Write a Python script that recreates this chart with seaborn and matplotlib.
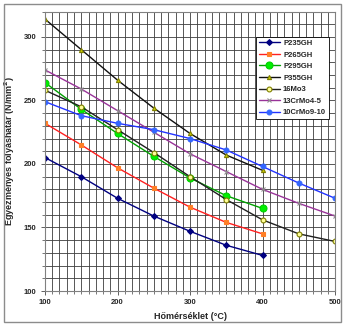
import matplotlib
matplotlib.use("Agg")
import matplotlib.pyplot as plt
from matplotlib.patches import Rectangle
from matplotlib.ticker import MultipleLocator
import seaborn as sns
import pandas as pd

sns.set_style("white")
plt.rcParams["font.family"] = ["Liberation Sans", "DejaVu Sans"]
plt.rcParams["font.weight"] = "bold"

# Temperatures (°C)
temps_short = [100, 150, 200, 250, 300, 350, 400]
temps_long = [100, 150, 200, 250, 300, 350, 400, 450, 500]

# Yield strength at elevated temperature (N/mm²)
p235gh = [205, 190, 173, 159, 147, 136, 128]
p265gh = [232, 215, 197, 181, 166, 154, 145]
p295gh = [264, 243, 224, 206, 189, 175, 165]
p355gh = [314, 290, 266, 244, 224, 207, 195]
mo16_3 = [258, 245, 227, 209, 190, 172, 156, 145, 139]
crmo13_45 = [274, 259, 242, 225, 208, 194, 180, 169, 159]
crmo10_910 = [249, 238, 232, 227, 220, 211, 198, 185, 173]

series = [
    ("P235GH", temps_short, p235gh,
     dict(color="#000080", marker="D", markersize=3, mfc="#000080", mec="#000080")),
    ("P265GH", temps_short, p265gh,
     dict(color="#FF2020", marker="s", markersize=3, mfc="#FF7F27", mec="#FF7F27")),
    ("P295GH", temps_short, p295gh,
     dict(color="#00A000", marker="o", markersize=5, mfc="#00F000", mec="#00D000")),
    ("P355GH", temps_short, p355gh,
     dict(color="#101010", marker="^", markersize=3, mfc="#C8C800", mec="#808000")),
    ("16Mo3", temps_long, mo16_3,
     dict(color="#202020", marker="o", markersize=3.5, mfc="#FFFF99", mec="#808000")),
    ("13CrMo4-5", temps_long, crmo13_45,
     dict(color="#993399", marker="x", markersize=3.5, mfc="#909090", mec="#909090")),
    ("10CrMo9-10", temps_long, crmo10_910,
     dict(color="#2233FF", marker="o", markersize=3.5, mfc="#3366FF", mec="#3366FF")),
]

fig = plt.figure(figsize=(3.5, 3.3), dpi=100)
ax = fig.add_axes([45 / 350, 1 - 291 / 330, 290 / 350, (291 - 11.5) / 330])

# outer chart frame
fig.patches.append(Rectangle((4 / 350, 1 - 322 / 330), 337 / 350, 318 / 330,
                             transform=fig.transFigure, fill=False,
                             edgecolor="#8c8c8c", linewidth=1.0))

for name, xs, ys, style in series:
    df = pd.DataFrame({"t": xs, "rp": ys})
    sns.lineplot(data=df, x="t", y="rp", ax=ax, label=name, linewidth=1.0,
                 markeredgewidth=0.8, **style)

ax.set_xlim(100, 500)
ax.set_ylim(100, 320)
ax.xaxis.set_major_locator(MultipleLocator(100))
ax.xaxis.set_minor_locator(MultipleLocator(10))
ax.yaxis.set_major_locator(MultipleLocator(50))
ax.yaxis.set_minor_locator(MultipleLocator(10))
ax.grid(which="both", color="#3c3c3c", linewidth=0.6)
ax.set_axisbelow(True)

ax.tick_params(axis="both", which="major", direction="out", length=3, width=0.7,
               color="#606060", labelsize=5.5, pad=3, bottom=True, left=True)
ax.tick_params(axis="both", which="minor", direction="out", length=2, width=0.6,
               color="#606060", bottom=True, left=True)
for lab in ax.get_xticklabels() + ax.get_yticklabels():
    lab.set_fontweight("bold")

for sp in ax.spines.values():
    sp.set_color("#808080")
    sp.set_linewidth(0.8)

ax.set_xlabel("Hőmérséklet (°C)", fontsize=6.5, fontweight="bold", labelpad=4)
ax.set_ylabel("Egyezményes folyáshatár (N/mm$^2$)", fontsize=6.5, fontweight="bold",
              labelpad=5)

leg = ax.legend(loc="upper right", bbox_to_anchor=(0.98, 0.91), fontsize=5.5,
                frameon=True, fancybox=False, handlelength=2.8, borderpad=0.4,
                labelspacing=0.55, handletextpad=0.4, borderaxespad=0)
leg.get_frame().set_edgecolor("#000000")
leg.get_frame().set_linewidth(0.6)
leg.get_frame().set_alpha(1)
for t in leg.get_texts():
    t.set_fontweight("bold")

fig.savefig("out.png", dpi=100, facecolor="white")
